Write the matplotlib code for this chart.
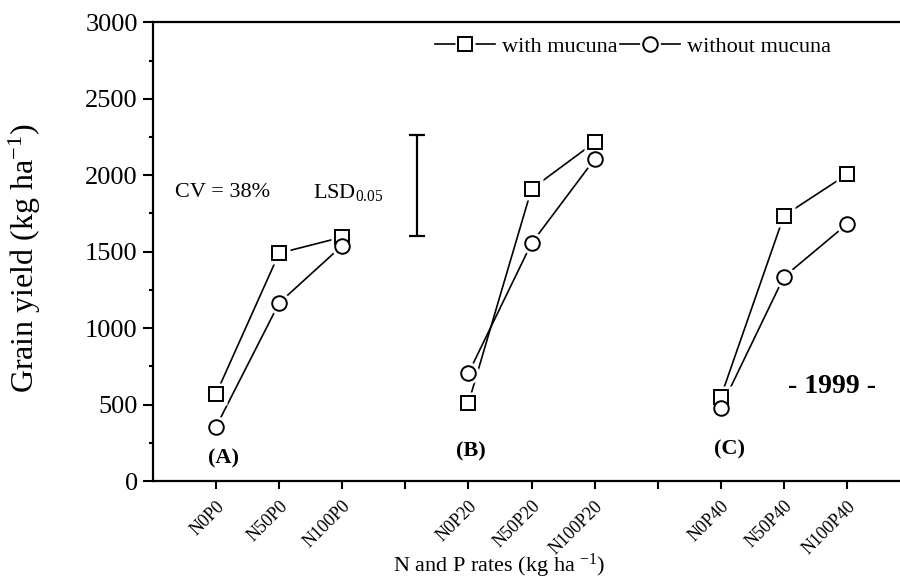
import matplotlib
matplotlib.use("Agg")
import matplotlib.pyplot as plt
from matplotlib.lines import Line2D
from matplotlib.legend_handler import HandlerTuple
from matplotlib.ticker import MultipleLocator

plt.rcParams['font.family'] = ['Liberation Serif', 'DejaVu Serif']
plt.rcParams['mathtext.fontset'] = 'custom'
plt.rcParams['mathtext.rm'] = 'Liberation Serif'
plt.rcParams['mathtext.it'] = 'Liberation Serif:italic'
plt.rcParams['mathtext.bf'] = 'Liberation Serif:bold'

# ---------------- data ----------------
groups = ['(A)', '(B)', '(C)']
treatments = ['N0P0', 'N50P0', 'N100P0',
              'N0P20', 'N50P20', 'N100P20',
              'N0P40', 'N50P40', 'N100P40']
with_mucuna = [570, 1490, 1595, 510, 1910, 2215, 550, 1735, 2005]
without_mucuna = [355, 1165, 1540, 705, 1555, 2105, 480, 1335, 1680]
lsd_low = 1603
lsd_high = 2262
cv_text = 'CV = 38%'
year_text = '- 1999 -'

# ---------------- layout ----------------
W, H = 900, 582
fig = plt.figure(figsize=(W / 100, H / 100), dpi=100)
ax = fig.add_axes([153 / W, 1 - 481 / H, (W - 153) / W, (481 - 22.3) / H])

n_per_group = 3
positions = [g * (n_per_group + 1) + i + 1
             for g in range(len(groups)) for i in range(n_per_group)]

for g in range(len(groups)):
    sl = slice(g * n_per_group, (g + 1) * n_per_group)
    xs = positions[sl]
    ax.plot(xs, with_mucuna[sl], color='black', lw=1.2, zorder=2,
            solid_capstyle='butt')
    ax.plot(xs, without_mucuna[sl], color='black', lw=1.2, zorder=2,
            solid_capstyle='butt')

# white halos to create gaps between lines and markers
ax.plot(positions, with_mucuna, ls='none', marker='s', ms=16,
        mfc='white', mec='none', zorder=3)
ax.plot(positions, without_mucuna, ls='none', marker='o', ms=16,
        mfc='white', mec='none', zorder=3)
ax.plot(positions, with_mucuna, ls='none', marker='s', ms=10,
        mfc='white', mec='black', mew=1.4, zorder=4)
ax.plot(positions, without_mucuna, ls='none', marker='o', ms=10.5,
        mfc='white', mec='black', mew=1.4, zorder=5)

# LSD bar
ax.errorbar([4.18], [(lsd_low + lsd_high) / 2], yerr=[(lsd_high - lsd_low) / 2],
            fmt='none', ecolor='black', elinewidth=1.6, capsize=5.5,
            capthick=1.6)

ax.set_xlim(0, 11.84)
ax.set_ylim(0, 3000)

ax.yaxis.set_major_locator(MultipleLocator(500))
ax.yaxis.set_minor_locator(MultipleLocator(250))
ax.set_xticks(range(1, 12))
xt_labels = [''] * 11
for p, t in zip(positions, treatments):
    xt_labels[p - 1] = t
ax.set_xticklabels(xt_labels, rotation=45, ha='right', va='top',
                   rotation_mode='anchor', fontsize=13)
ax.tick_params(axis='x', which='major', direction='out', length=6,
               width=1.5, pad=6)
ax.tick_params(axis='y', which='major', direction='out', length=7,
               width=1.5, labelsize=19, pad=4)
ax.tick_params(axis='y', which='minor', direction='out', length=3,
               width=1.5)

for s in ['left', 'bottom', 'top']:
    ax.spines[s].set_linewidth(1.6)
ax.spines['right'].set_visible(False)

# annotations
ax.text(0.35, 1890, cv_text, fontsize=16, ha='left', va='center')
ax.text(2.54, 1890, r'LSD$_{\mathrm{0.05}}$', fontsize=16, ha='left',
        va='center')
label_pos = [(1.11, 150), (5.04, 190), (9.13, 203)]
for gname, (gx, gy) in zip(groups, label_pos):
    ax.text(gx, gy, gname, fontsize=16, fontweight='bold', ha='center',
            va='center')
ax.text(10.76, 615, year_text, fontsize=20, fontweight='bold', ha='center',
        va='center')

# axis titles
fig.text(25 / W, 1 - 258 / H, r'Grain yield (kg ha$^{\mathrm{-1}}$)',
         rotation=90, ha='center', va='center', fontsize=23)
fig.text(499 / W, 1 - 566 / H, r'N and P rates (kg ha $^{\mathrm{-1}}$)',
         ha='center', va='center', fontsize=16)

# legend
h_with = (Line2D([], [], color='black', lw=1.2),
          Line2D([], [], ls='none', marker='s', ms=15, mfc='white', mec='none'),
          Line2D([], [], ls='none', marker='s', ms=10, mfc='white',
                 mec='black', mew=1.4))
h_without = (Line2D([], [], color='black', lw=1.2),
             Line2D([], [], ls='none', marker='o', ms=15, mfc='white', mec='none'),
             Line2D([], [], ls='none', marker='o', ms=10.5, mfc='white',
                    mec='black', mew=1.4))
fig.legend([h_with, h_without], ['with mucuna', 'without mucuna'],
           handler_map={tuple: HandlerTuple(ndivide=1)},
           loc='center', bbox_to_anchor=(633 / W, 1 - 47 / H), ncol=2,
           frameon=False, fontsize=16, handlelength=2.7, handletextpad=0.3,
           columnspacing=0.1, borderaxespad=0)

fig.savefig('out.png', dpi=100)
